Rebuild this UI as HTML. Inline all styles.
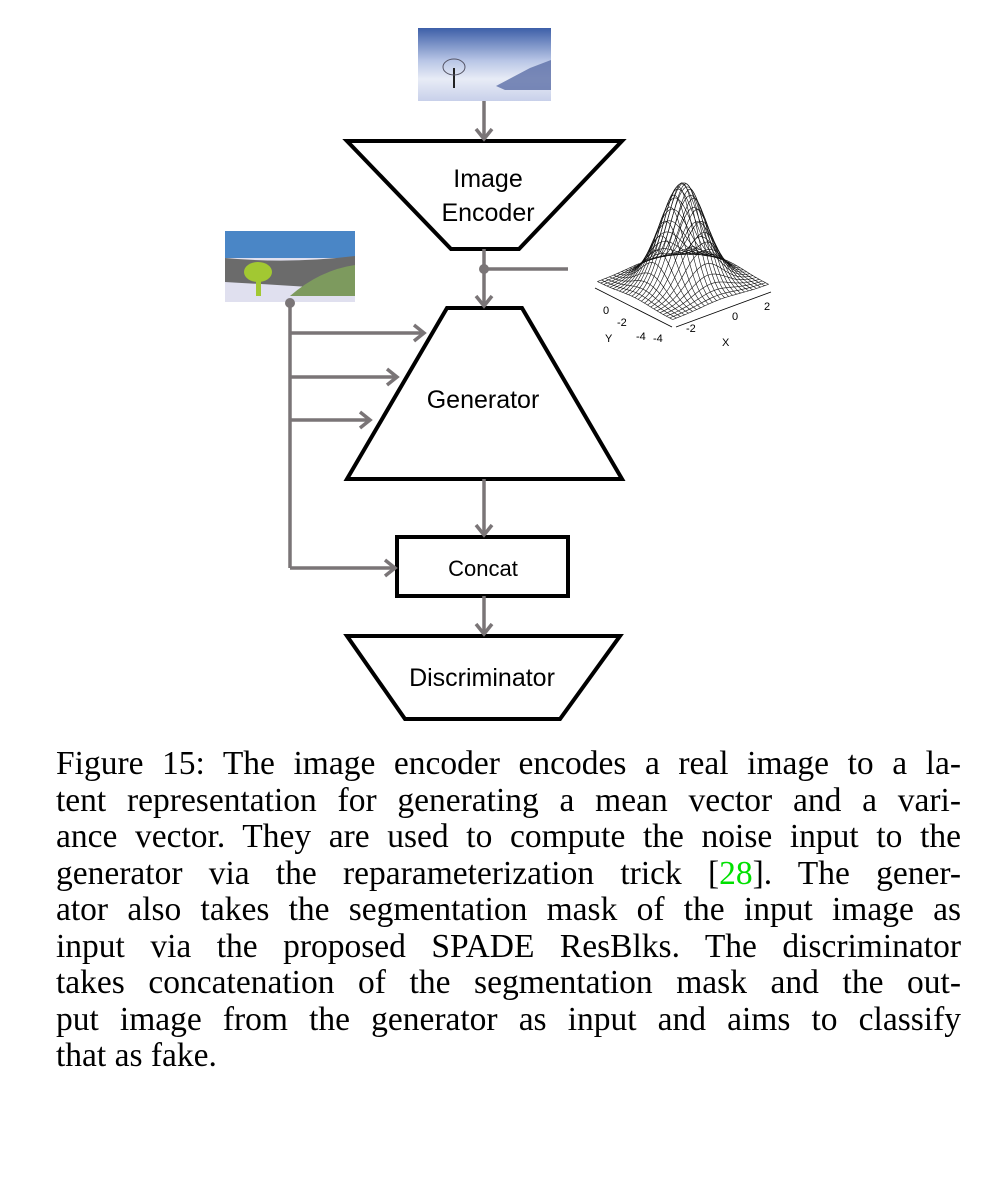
<!DOCTYPE html>
<html><head><meta charset="utf-8">
<style>
body{margin:0;background:#fff;width:999px;height:1203px;overflow:hidden;position:relative}
svg{position:absolute;left:0;top:0}
.cap{position:absolute;left:56px;width:905px;font-family:"Liberation Serif",serif;font-size:33.5px;line-height:36.5px;color:#000}
.ln{display:block;text-align:justify;text-align-last:justify;white-space:nowrap;height:36.5px}
.ln.last{text-align-last:left}
.ref{color:#00e000}
</style></head><body>
<svg width="999" height="740">
<defs>
<linearGradient id="sky" x1="0" y1="0" x2="0" y2="1"><stop offset="0" stop-color="#3d5fa8"/><stop offset="0.45" stop-color="#b9c6e6"/><stop offset="0.7" stop-color="#e8ecf6"/><stop offset="1" stop-color="#c8d0ea"/></linearGradient>
</defs>
<g>
<rect x="418" y="28" width="133" height="73" fill="url(#sky)"/>
<polygon points="496,86 530,68 551,60 551,90 505,90" fill="#5c6fa8" opacity="0.8"/>
<line x1="454" y1="68" x2="454" y2="88" stroke="#222" stroke-width="2"/>
<ellipse cx="454" cy="67" rx="11" ry="8" fill="none" stroke="#556" stroke-width="1"/>
</g>
<g>
<rect x="225" y="231" width="130" height="71" fill="#e0e0ef"/>
<rect x="225" y="231" width="130" height="27" fill="#4a86c6"/>
<path d="M225,258 Q290,264 355,256 L355,290 Q280,285 225,282 Z" fill="#6b6b6b"/>
<path d="M290,296 Q320,270 355,265 L355,296 Z" fill="#7d9a5e"/>
<rect x="256" y="276" width="5" height="20" fill="#a2c832"/>
<ellipse cx="258" cy="272" rx="14" ry="10" fill="#a2c832"/>
</g>
<g fill="none" stroke="#000" stroke-width="4">
<polygon points="347,141 622,141 519,249 451,249"/>
<polygon points="447,308 522,308 622,479 347,479"/>
<rect x="397" y="537" width="171" height="59"/>
<polygon points="347,636 620,636 560,719 405,719"/>
</g>
<g stroke="#7a7577" stroke-width="3.5" fill="none">
<line x1="484" y1="101" x2="484" y2="139"/><polyline points="476,129 484,139 492,129"/>
<line x1="484" y1="249" x2="484" y2="306"/><polyline points="476,296 484,306 492,296"/>
<line x1="484" y1="269" x2="568" y2="269"/>
<line x1="290" y1="303" x2="290" y2="568"/>
<line x1="290" y1="333" x2="424" y2="333"/><polyline points="414,325 424,333 414,341"/>
<line x1="290" y1="377" x2="397" y2="377"/><polyline points="387,369 397,377 387,385"/>
<line x1="290" y1="420" x2="370" y2="420"/><polyline points="360,412 370,420 360,428"/>
<line x1="290" y1="568" x2="395" y2="568"/><polyline points="385,560 395,568 385,576"/>
<line x1="484" y1="479" x2="484" y2="535"/><polyline points="476,525 484,535 492,525"/>
<line x1="484" y1="596" x2="484" y2="634"/><polyline points="476,624 484,634 492,624"/>
</g>
<circle cx="484" cy="269" r="5" fill="#7a7577"/>
<circle cx="290" cy="303" r="5" fill="#7a7577"/>
<g font-family="Liberation Sans, sans-serif" font-size="25" text-anchor="middle" fill="#000">
<text x="488" y="187">Image</text>
<text x="488" y="221">Encoder</text>
<text x="483" y="408">Generator</text>
<text x="483" y="576" font-size="22">Concat</text>
<text x="482" y="686">Discriminator</text>
</g>
<g id="gauss" stroke="#111" stroke-width="0.6" fill="none"></g>
<g font-family="Liberation Sans, sans-serif" font-size="11" fill="#000">
<line x1="595" y1="288" x2="672" y2="327" stroke="#000" stroke-width="0.8"/>
<line x1="676" y1="327" x2="771" y2="292" stroke="#000" stroke-width="0.8"/>
<text x="603" y="314">0</text><text x="617" y="326">-2</text><text x="605" y="342">Y</text>
<text x="636" y="340">-4</text><text x="653" y="342">-4</text>
<text x="686" y="332">-2</text><text x="732" y="320">0</text><text x="764" y="310">2</text>
<text x="722" y="346">X</text>
</g>
</svg>
<div class="cap" style="top:746px">
<span class="ln">Figure 15: The image encoder encodes a real image to a la-</span>
<span class="ln">tent representation for generating a mean vector and a vari-</span>
<span class="ln">ance vector. They are used to compute the noise input to the</span>
<span class="ln">generator via the reparameterization trick [<span class="ref">28</span>]. The gener-</span>
<span class="ln">ator also takes the segmentation mask of the input image as</span>
<span class="ln">input via the proposed SPADE ResBlks. The discriminator</span>
<span class="ln">takes concatenation of the segmentation mask and the out-</span>
<span class="ln">put image from the generator as input and aims to classify</span>
<span class="ln last">that as fake.</span>
</div>
<script>
const gridN = 24;
const g = document.getElementById('gauss');
function proj(u,v){
  const z = Math.exp(-(u*u+v*v)/4.5);
  const x = 683 + u*12 - v*9.4;
  const y = 283 - u*4.4 - v*4.75 - z*100;
  return [x, y];
}
for(let i=0;i<=gridN;i++){
  const a=-4+8*i/gridN;
  let d1='',d2='';
  for(let j=0;j<=gridN*2;j++){
    const b=-4+8*j/(gridN*2);
    const p=proj(a,b), q=proj(b,a);
    d1+=(j?'L':'M')+p[0].toFixed(1)+','+p[1].toFixed(1);
    d2+=(j?'L':'M')+q[0].toFixed(1)+','+q[1].toFixed(1);
  }
  const p1=document.createElementNS('http://www.w3.org/2000/svg','path');
  p1.setAttribute('d',d1);
  
  
  g.appendChild(p1);
  const p2=document.createElementNS('http://www.w3.org/2000/svg','path');
  p2.setAttribute('d',d2);
  
  
  g.appendChild(p2);
}
</script>
</body></html>
